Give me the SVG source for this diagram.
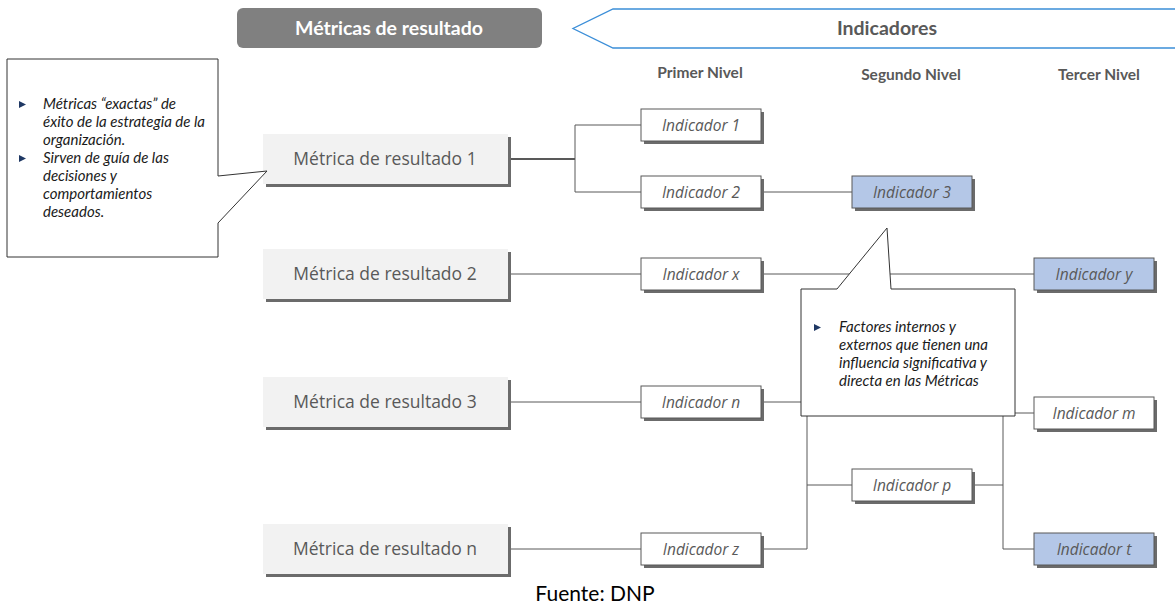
<svg xmlns="http://www.w3.org/2000/svg" width="1175" height="608" viewBox="0 0 1175 608">
<defs>
<style>
.sh{fill:#6b6b6b}
.mrb{fill:#f2f2f2}
.indb{fill:#ffffff;stroke:#595959;stroke-width:1}
.blue{fill:#b4c7e7}
.tmr{font-family:"Open Sans",sans-serif;font-size:17.5px;fill:#595959;text-anchor:middle}
.tind{font-family:"Open Sans",sans-serif;font-style:italic;font-size:15.5px;fill:#595959;text-anchor:middle}
.conn{stroke:#595959;stroke-width:1;fill:none}
.thick{stroke-width:2}
.callout{fill:#ffffff;stroke:#333333;stroke-width:1}
.ct{font-family:Lato,sans-serif;font-style:italic;font-size:15px;fill:#1a1a1a}
.bul{fill:#1f3864}
.hdr{font-family:Lato,sans-serif;font-weight:bold;font-size:19.5px;text-anchor:middle}
.lvl{font-family:Lato,sans-serif;font-weight:bold;font-size:15.5px;fill:#595959;text-anchor:middle}
.src{font-family:Lato,sans-serif;font-size:21px;fill:#000000;text-anchor:middle}
</style>
</defs>
<rect width="1175" height="608" fill="#ffffff"/>

<g id="header-metricas">
<rect x="237" y="8" width="305" height="40" rx="6" fill="#808080"/>
<text class="hdr" x="389" y="35" fill="#ffffff">Métricas de resultado</text>
</g>
<g id="header-indicadores">
<path d="M1176,9 H613 L573,28.5 L613,48 H1176" fill="#ffffff" stroke="#3b8ed8" stroke-width="1.3"/>
<text class="hdr" x="887" y="35" fill="#595959">Indicadores</text>
</g>
<g id="levels">
<text class="lvl" x="700" y="78">Primer Nivel</text>
<text class="lvl" x="911" y="80">Segundo Nivel</text>
<text class="lvl" x="1099" y="80">Tercer Nivel</text>
</g>

<g id="connectors">
<path class="conn thick" d="M511,159 H575"/>
<path class="conn" d="M641,125 H575 V192 H641"/>
<path class="conn" d="M761,192 H852"/>
<path class="conn" d="M511,274 H641"/>
<path class="conn" d="M761,274 H1034"/>
<path class="conn" d="M511,402 H641"/>
<path class="conn" d="M761,402 H807 V549 H761"/>
<path class="conn" d="M807,485 H852"/>
<path class="conn" d="M511,549 H641"/>
<path class="conn" d="M972,485 H1003"/>
<path class="conn" d="M1034,413 H1003 V549 H1034"/>
</g>

<g id="mr1"><rect class="sh" x="266" y="137" width="245" height="50"/><rect class="mrb" x="263" y="134" width="245" height="50"/><text class="tmr" x="385" y="165">Métrica de resultado 1</text></g>
<g id="mr2"><rect class="sh" x="266" y="252" width="245" height="50"/><rect class="mrb" x="263" y="249" width="245" height="50"/><text class="tmr" x="385" y="280">Métrica de resultado 2</text></g>
<g id="mr3"><rect class="sh" x="266" y="380" width="245" height="50"/><rect class="mrb" x="263" y="377" width="245" height="50"/><text class="tmr" x="385" y="408">Métrica de resultado 3</text></g>
<g id="mrn"><rect class="sh" x="266" y="527" width="245" height="50"/><rect class="mrb" x="263" y="524" width="245" height="50"/><text class="tmr" x="385" y="555">Métrica de resultado n</text></g>

<g id="ind1"><rect class="sh" x="644" y="112" width="120" height="32"/><rect class="indb" x="641" y="109" width="120" height="32"/><text class="tind" x="701" y="130.5">Indicador 1</text></g>
<g id="ind2"><rect class="sh" x="644" y="179" width="120" height="32"/><rect class="indb" x="641" y="176" width="120" height="32"/><text class="tind" x="701" y="197.5">Indicador 2</text></g>
<g id="ind3"><rect class="sh" x="855" y="179" width="120" height="32"/><rect class="indb blue" x="852" y="176" width="120" height="32"/><text class="tind" x="912" y="197.5">Indicador 3</text></g>
<g id="indx"><rect class="sh" x="644" y="261" width="120" height="32"/><rect class="indb" x="641" y="258" width="120" height="32"/><text class="tind" x="701" y="279.5">Indicador x</text></g>
<g id="indy"><rect class="sh" x="1037" y="261" width="120" height="32"/><rect class="indb blue" x="1034" y="258" width="120" height="32"/><text class="tind" x="1094" y="279.5">Indicador y</text></g>
<g id="indn"><rect class="sh" x="644" y="389" width="120" height="32"/><rect class="indb" x="641" y="386" width="120" height="32"/><text class="tind" x="701" y="407.5">Indicador n</text></g>
<g id="indm"><rect class="sh" x="1037" y="400" width="120" height="32"/><rect class="indb" x="1034" y="397" width="120" height="32"/><text class="tind" x="1094" y="418.5">Indicador m</text></g>
<g id="indp"><rect class="sh" x="855" y="472" width="120" height="32"/><rect class="indb" x="852" y="469" width="120" height="32"/><text class="tind" x="912" y="490.5">Indicador p</text></g>
<g id="indz"><rect class="sh" x="644" y="536" width="120" height="32"/><rect class="indb" x="641" y="533" width="120" height="32"/><text class="tind" x="701" y="554.5">Indicador z</text></g>
<g id="indt"><rect class="sh" x="1037" y="536" width="120" height="32"/><rect class="indb blue" x="1034" y="533" width="120" height="32"/><text class="tind" x="1094" y="554.5">Indicador t</text></g>

<g id="callout-metricas">
<path class="callout" d="M7,59 H218 V176 L267,171 L218,223 V257 H7 Z"/>
<path class="bul" d="M19,101 L26,104.5 L19,108 Z"/>
<path class="bul" d="M19,155 L26,158.5 L19,162 Z"/>
<text class="ct" x="43" y="109">Métricas “exactas” de</text>
<text class="ct" x="43" y="127">éxito de la estrategia de la</text>
<text class="ct" x="43" y="145">organización.</text>
<text class="ct" x="43" y="163">Sirven de guía de las</text>
<text class="ct" x="43" y="181">decisiones y</text>
<text class="ct" x="43" y="199">comportamientos</text>
<text class="ct" x="43" y="217">deseados.</text>
</g>

<g id="callout-indicadores">
<path class="callout" d="M801,289 H837 L887,228 L891,289 H1015 V416 H801 Z"/>
<path class="bul" d="M814,324 L821,327.5 L814,331 Z"/>
<text class="ct" x="839" y="332">Factores internos y</text>
<text class="ct" x="839" y="350">externos que tienen una</text>
<text class="ct" x="839" y="368">influencia significativa y</text>
<text class="ct" x="839" y="386">directa en las Métricas</text>
</g>

<text class="src" x="595" y="601">Fuente: DNP</text>
</svg>
